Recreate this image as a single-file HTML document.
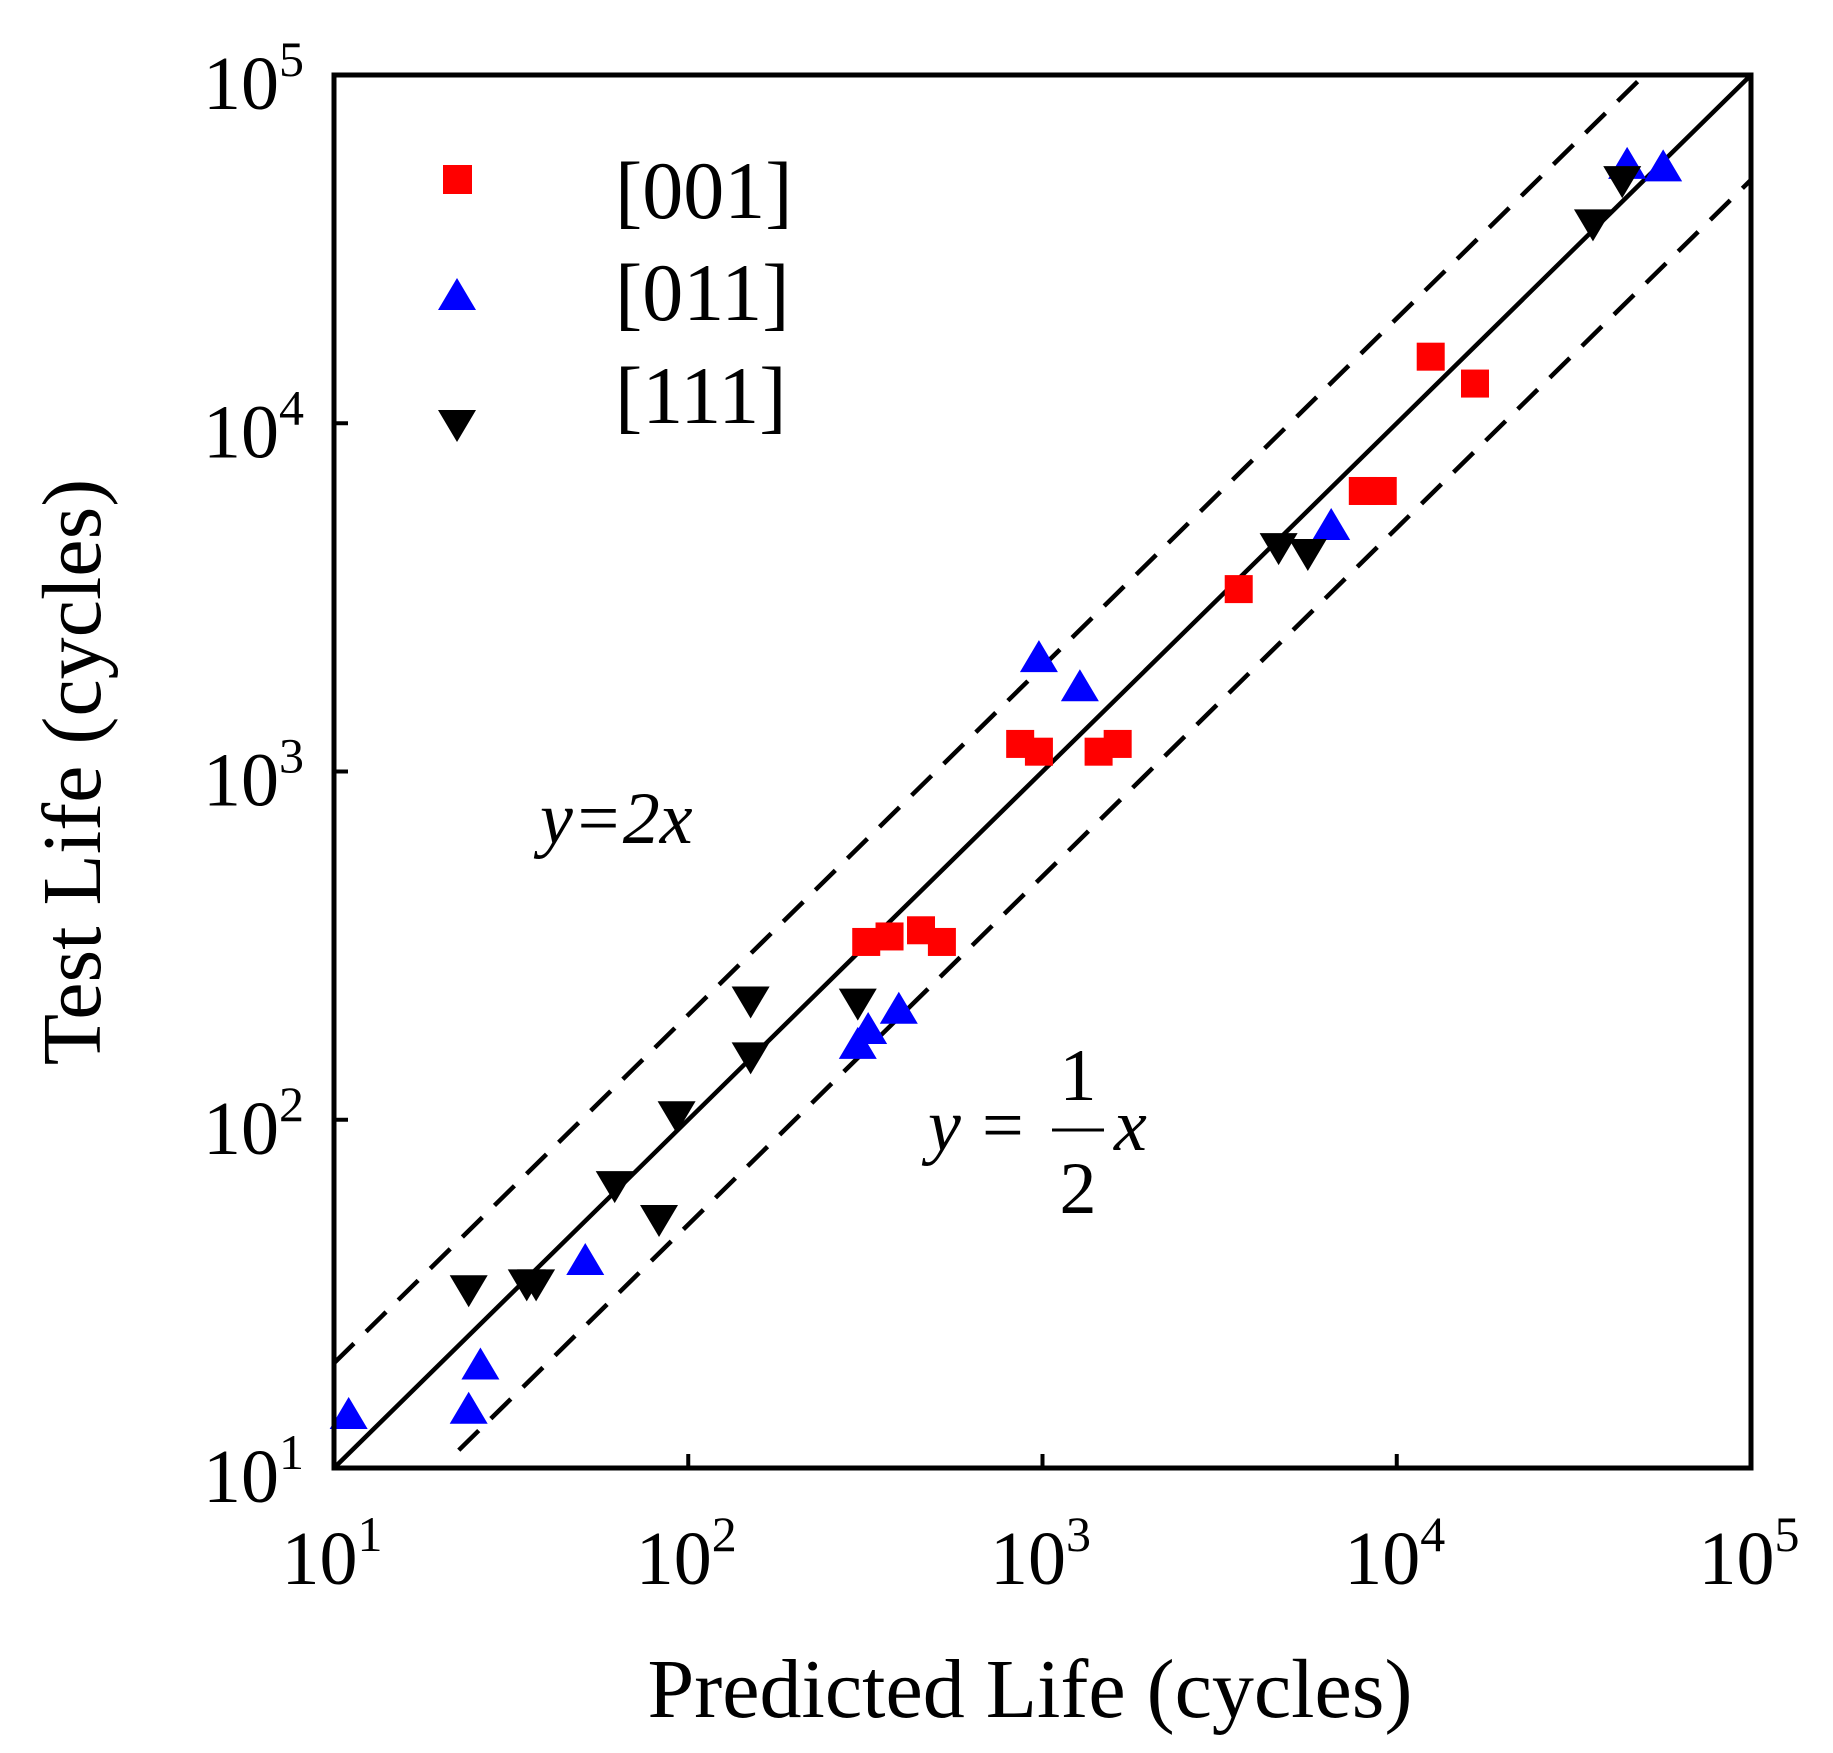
<!DOCTYPE html>
<html><head><meta charset="utf-8"><style>
body{margin:0;background:#fff}
svg{display:block}
text{font-family:"Liberation Serif",serif;fill:#000}
</style></head><body>
<svg id="chart" width="1833" height="1753">
<g id="ticks"></g>
<g id="lines"></g>
<g id="marks"></g>
<rect x="334" y="75" width="1417" height="1393" fill="none" stroke="#000" stroke-width="5"/>
<g>
<rect x="443" y="165" width="29" height="29" fill="#f00"/>
<text x="615" y="218" font-size="82">[001]</text>
<polygon points="457,278 438,310 476,310" fill="#00f"/>
<text x="615" y="320" font-size="82">[011]</text>
<polygon points="438,410 476,410 457,442" fill="#000"/>
<text x="615" y="423" font-size="82">[111]</text>
</g>
<text x="540" y="843" font-size="74" font-style="italic">y=2x</text>
<g>
<text x="928" y="1150" font-size="74" font-style="italic">y</text>
<text x="982" y="1150" font-size="74">=</text>
<text x="1078" y="1100" font-size="74" text-anchor="middle">1</text>
<line x1="1052" y1="1130" x2="1104" y2="1130" stroke="#000" stroke-width="3"/>
<text x="1078" y="1213" font-size="74" text-anchor="middle">2</text>
<text x="1114" y="1150" font-size="74" font-style="italic">x</text>
</g>
<text x="1030" y="1717" font-size="84" text-anchor="middle">Predicted Life (cycles)</text>
<text transform="translate(100,772) rotate(-90)" font-size="84" text-anchor="middle">Test Life (cycles)</text>
</svg>
<script>
const decades=[1,2,3,4,5];
const s001x=[12470,16630,8020,9130,3580,865,977,1440,1630,318,370,454,520];
const s001y=[15530,13000,6390,6390,3340,1200,1140,1140,1200,324,336,350,324];
const s011x=[11.0,24.0,25.9,51.2,301,322,393,977,1275,6530,44700,56500];
const s011y=[14.2,14.7,19.7,39.3,164,181,207,2117,1745,5070,55200,54300];
const s111x=[24.0,35.0,37.2,62.0,82.7,92.7,150,150,301,4640,5610,35800,43300];
const s111y=[32.6,33.9,33.9,64.9,51.9,103,220,152,217,4410,4240,37500,49900];
const X0=334,X1=1751,Y0=1468,Y1=75;
const sx=v=>X0+(Math.log10(v)-1)/4*(X1-X0);
const sy=v=>Y0-(Math.log10(v)-1)/4*(Y0-Y1);
const NS='http://www.w3.org/2000/svg';
function mk(t,a,p){const e=document.createElementNS(NS,t);for(const k in a)e.setAttribute(k,a[k]);p.appendChild(e);return e;}
const tg=document.getElementById('ticks');
decades.forEach(d=>{
 const v=Math.pow(10,d);
 const x=sx(v),y=sy(v);
 const t1=mk('line',{x1:x,y1:Y0,x2:x,y2:Y0-14,stroke:'#000','stroke-width':4},tg);
 
 
 const t2=mk('line',{x1:X0,y1:y,x2:X0+14,y2:y,stroke:'#000','stroke-width':4},tg);
 
 
 const lx=mk('text',{x:x-2,y:1584,'font-size':76,'text-anchor':'middle'},tg);
 lx.innerHTML='10<tspan dy="-33" font-size="50">'+d+'</tspan>';
 
 
 const ly=mk('text',{x:304,y:y+34,'font-size':76,'text-anchor':'end'},tg);
 ly.innerHTML='10<tspan dy="-33" font-size="50">'+d+'</tspan>';
 
 
});
const lg=document.getElementById('lines');
const l1=mk('line',{x1:sx(10),y1:sy(10),x2:sx(1e5),y2:sy(1e5),stroke:'#000','stroke-width':4.5},lg);


const l2=mk('line',{x1:sx(10),y1:sy(20),x2:sx(5e4),y2:sy(1e5),stroke:'#000','stroke-width':4.5,'stroke-dasharray':'28,17'},lg);


const l3=mk('line',{x1:sx(22.5),y1:sy(11.25),x2:sx(1e5),y2:sy(5e4),stroke:'#000','stroke-width':4.5,'stroke-dasharray':'28,17'},lg);


const mg=document.getElementById('marks');
s001x.forEach((v,i)=>{const x=sx(v),y=sy(s001y[i]);
 const e=mk('rect',{x:x-14,y:y-14,width:28,height:28,fill:'#f00'},mg);
 
 });
s011x.forEach((v,i)=>{const x=sx(v),y=sy(s011y[i]);
 const e=mk('polygon',{points:`${x},${y-18} ${x-19},${y+14} ${x+19},${y+14}`,fill:'#00f'},mg);
 
 });
s111x.forEach((v,i)=>{const x=sx(v),y=sy(s111y[i]);
 const e=mk('polygon',{points:`${x-19},${y-14} ${x+19},${y-14} ${x},${y+18}`,fill:'#000'},mg);
 
 });
</script>
</body></html>
